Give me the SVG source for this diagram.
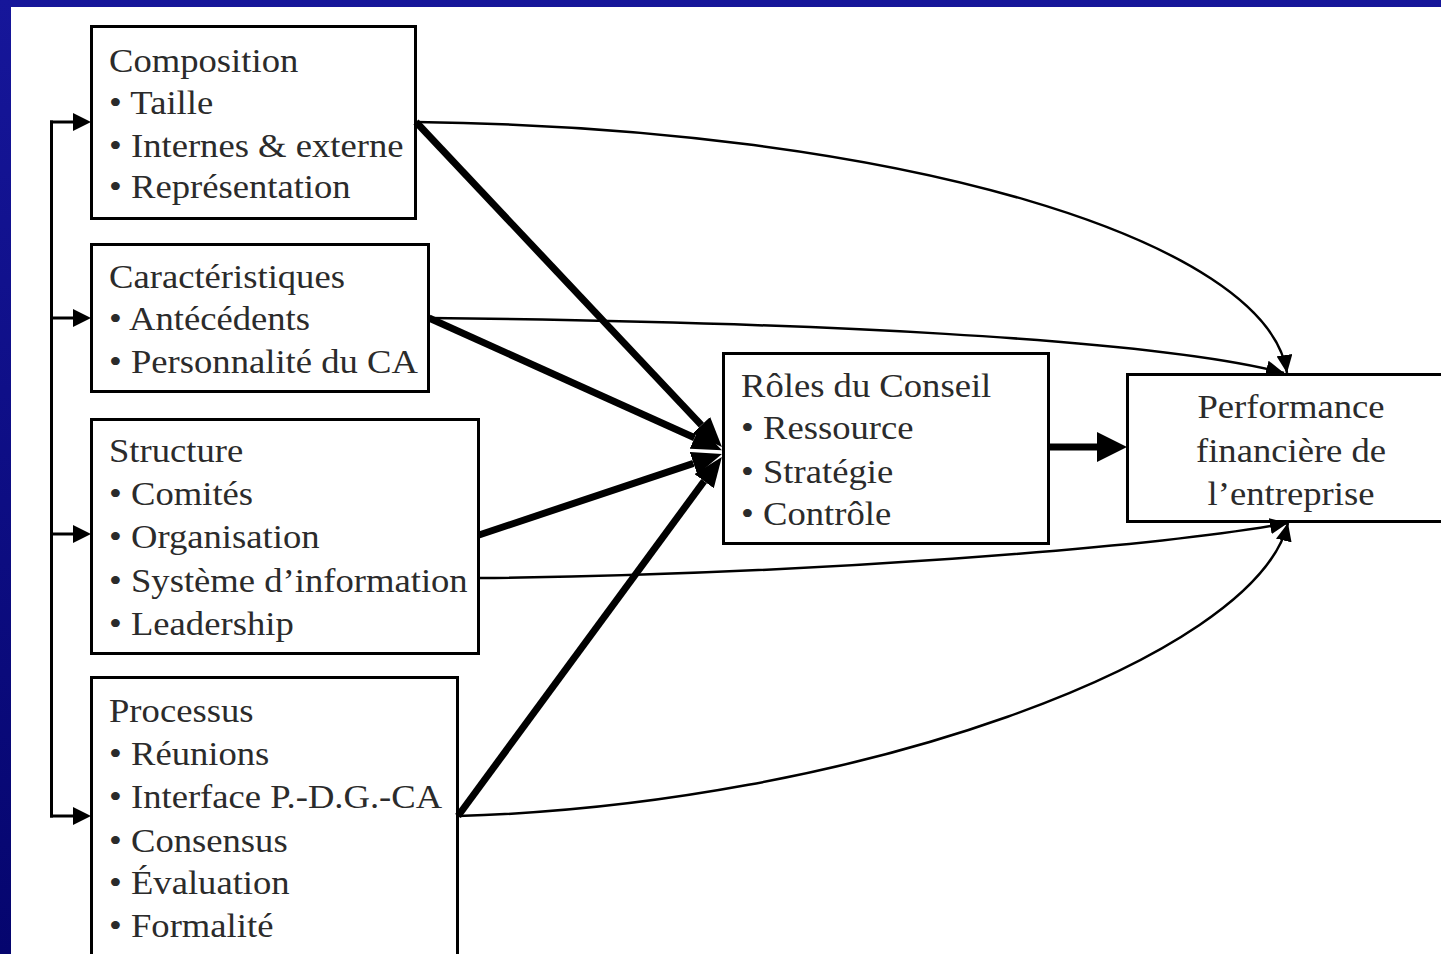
<svg xmlns="http://www.w3.org/2000/svg" width="1441" height="954" viewBox="0 0 1441 954">
<defs>
<style>
.box{fill:#fff;stroke:#000;stroke-width:3}
.t{font-family:"Liberation Serif","Times New Roman",serif;font-size:33px;fill:#2b2b2b}
.thick{fill:none;stroke:#000;stroke-width:7;stroke-linecap:butt}
.thin{fill:none;stroke:#000;stroke-width:2.5}
.fb{fill:none;stroke:#000;stroke-width:3}
</style>
<linearGradient id="bg" x1="0" y1="0" x2="0" y2="1">
<stop offset="0" stop-color="#16169a"/>
<stop offset="1" stop-color="#05056e"/>
</linearGradient>
<marker id="big" markerUnits="userSpaceOnUse" viewBox="0 0 30 24" refX="0" refY="12" markerWidth="30" markerHeight="24" orient="auto">
<path d="M0,0 L30,12 L0,24 z" fill="#000"/>
</marker>
<marker id="bigP" markerUnits="userSpaceOnUse" viewBox="0 0 30 30" refX="0" refY="15" markerWidth="30" markerHeight="30" orient="auto">
<path d="M0,0 L30,15 L0,30 z" fill="#000"/>
</marker>
<marker id="small" markerUnits="userSpaceOnUse" viewBox="0 0 18 16" refX="18" refY="8" markerWidth="18" markerHeight="16" orient="auto">
<path d="M0,0 L18,8 L0,16 z" fill="#000"/>
</marker>
<marker id="fbh" markerUnits="userSpaceOnUse" viewBox="0 0 18 18" refX="0" refY="9" markerWidth="18" markerHeight="18" orient="auto">
<path d="M0,0 L18,9 L0,18 z" fill="#000"/>
</marker>
</defs>
<rect x="0" y="0" width="1441" height="954" fill="url(#bg)"/>
<rect x="11" y="7" width="1430" height="947" fill="#fff"/>

<g id="composition">
<rect class="box" x="91.5" y="26.5" width="324" height="192"/>
<g transform="translate(109 0) scale(1.11 1)">
<text class="t" x="0" y="72">Composition</text>
<text class="t" x="0" y="114">• Taille</text>
<text class="t" x="0" y="157">• Internes &amp; externe</text>
<text class="t" x="0" y="198">• Représentation</text>
</g>
</g>

<g id="caracteristiques">
<rect class="box" x="91.5" y="244.5" width="337" height="147"/>
<g transform="translate(109 0) scale(1.11 1)">
<text class="t" x="0" y="288">Caractéristiques</text>
<text class="t" x="0" y="330">• Antécédents</text>
<text class="t" x="0" y="373">• Personnalité du CA</text>
</g>
</g>

<g id="structure">
<rect class="box" x="91.5" y="419.5" width="387" height="234"/>
<g transform="translate(109 0) scale(1.11 1)">
<text class="t" x="0" y="462">Structure</text>
<text class="t" x="0" y="505">• Comités</text>
<text class="t" x="0" y="548">• Organisation</text>
<text class="t" x="0" y="592">• Système d’information</text>
<text class="t" x="0" y="635">• Leadership</text>
</g>
</g>

<g id="processus">
<rect class="box" x="91.5" y="677.5" width="366" height="300"/>
<g transform="translate(109 0) scale(1.11 1)">
<text class="t" x="0" y="722">Processus</text>
<text class="t" x="0" y="765">• Réunions</text>
<text class="t" x="0" y="808">• Interface P.-D.G.-CA</text>
<text class="t" x="0" y="852">• Consensus</text>
<text class="t" x="0" y="894">• Évaluation</text>
<text class="t" x="0" y="937">• Formalité</text>
</g>
</g>

<g id="roles">
<rect class="box" x="723.5" y="353.5" width="325" height="190"/>
<g transform="translate(741 0) scale(1.11 1)">
<text class="t" x="0" y="397">Rôles du Conseil</text>
<text class="t" x="0" y="439">• Ressource</text>
<text class="t" x="0" y="483">• Stratégie</text>
<text class="t" x="0" y="525">• Contrôle</text>
</g>
</g>

<g id="performance">
<rect class="box" x="1127.5" y="374.5" width="340" height="147"/>
<g transform="translate(1291 0) scale(1.11 1)">
<text class="t" x="0" y="418" text-anchor="middle">Performance</text>
<text class="t" x="0" y="462" text-anchor="middle">financière de</text>
<text class="t" x="0" y="505" text-anchor="middle">l’entreprise</text>
</g>
</g>

<g id="connectors">
<path class="fb" d="M51.5,120.5 V817.5"/>
<path class="fb" d="M50,122 H73" marker-end="url(#fbh)"/>
<path class="fb" d="M50,318 H73" marker-end="url(#fbh)"/>
<path class="fb" d="M50,534 H73" marker-end="url(#fbh)"/>
<path class="fb" d="M50,816 H73" marker-end="url(#fbh)"/>

<path class="thick" d="M416,122 L701.4,425.2" marker-end="url(#big)"/>
<path class="thick" d="M429,318 L694.6,437.8" marker-end="url(#big)"/>
<path class="thick" d="M479,535 L693.5,463.4" marker-end="url(#big)"/>
<path class="thick" d="M458,816 L704.1,481.1" marker-end="url(#big)"/>
<path class="thick" d="M1049,447 L1097,447" marker-end="url(#bigP)"/>

<path class="thin" d="M416,122 C900,128 1268,240 1287,373" marker-end="url(#small)"/>
<path class="thin" d="M429,318 C800,322 1150,338 1284,373" marker-end="url(#small)"/>
<path class="thin" d="M479,578 C800,575 1150,548 1288,523" marker-end="url(#small)"/>
<path class="thin" d="M458,816 C850,805 1255,660 1288,523" marker-end="url(#small)"/>
</g>
</svg>
